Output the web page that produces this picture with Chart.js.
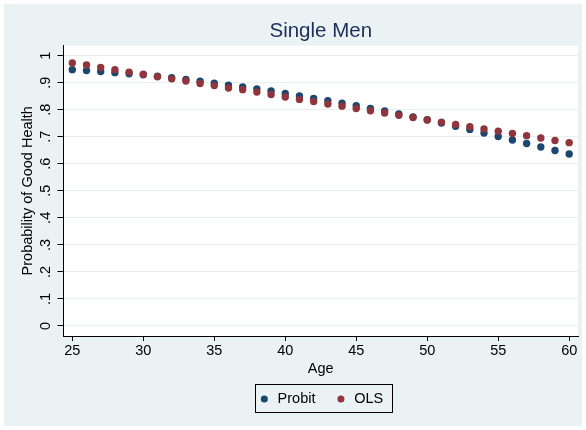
<!DOCTYPE html>
<html>
<head>
<meta charset="utf-8">
<script src="https://cdn.jsdelivr.net/npm/chart.js@4.4.0/dist/chart.umd.min.js"></script>
<style>
  html, body { margin: 0; padding: 0; background: #fff; }
  canvas { display: block; }
</style>
</head>
<body>
<canvas id="myChart" width="586" height="430"></canvas>
<script>
// data
var ages = [25,26,27,28,29,30,31,32,33,34,35,36,37,38,39,40,41,42,43,44,45,46,47,48,49,50,51,52,53,54,55,56,57,58,59,60];
var probit = [.948,.945,.941,.937,.933,.929,.924,.918,.912,.905,.898,.891,.884,.877,.869,.860,.851,.842,.833,.824,.815,.805,.795,.784,.773,.763,.751,.739,.727,.714,.701,.688,.675,.662,.649,.636];
var ols = [.973,.965,.956,.948,.939,.931,.922,.914,.906,.897,.889,.880,.874,.865,.856,.847,.838,.830,.821,.813,.804,.796,.788,.779,.771,.762,.754,.745,.737,.729,.720,.712,.704,.695,.686,.678];
var xTicks = [25,30,35,40,45,50,55,60];
var yTicks = [0,.1,.2,.3,.4,.5,.6,.7,.8,.9,1];
var yTickLabels = ['0','.1','.2','.3','.4','.5','.6','.7','.8','.9','1'];

var FONT = "'Liberation Sans', Arial, sans-serif";
Chart.defaults.font.family = FONT;
Chart.defaults.color = '#000';

function points(ys) {
	return ages.map(function(a, i) { return {x: a, y: ys[i]}; });
}

var stataPlugin = {
	id: 'stata',
	beforeDraw: function(chart) {
		var ctx = chart.ctx, ca = chart.chartArea;
		ctx.save();
		ctx.fillStyle = '#ffffff';
		ctx.fillRect(0, 0, chart.width, chart.height);
		ctx.fillStyle = '#EAF2F3';
		ctx.fillRect(4, 4, 578, 422);
		ctx.fillStyle = '#ffffff';
		ctx.fillRect(ca.left, ca.top, ca.right - ca.left, ca.bottom - ca.top);
		ctx.restore();
	},
	afterDraw: function(chart) {
		var ctx = chart.ctx;
		var y = chart.scales.y;
		// rotated y tick labels
		ctx.save();
		ctx.fillStyle = '#000';
		ctx.font = '14.5px ' + FONT;
		ctx.textAlign = 'center';
		ctx.textBaseline = 'middle';
		yTicks.forEach(function(v, i) {
			ctx.save();
			ctx.translate(45.7, y.getPixelForValue(v));
			ctx.rotate(-Math.PI / 2);
			ctx.fillText(yTickLabels[i], 0, 0);
			ctx.restore();
		});
		// legend frame
		var hb = chart.legend.legendHitBoxes;
		if (hb && hb.length) {
			var bw = chart.legend.options.labels.boxWidth;
			var cy = hb[0].top + hb[0].height / 2;
			var l = Math.round(hb[0].left + bw / 2 - 9) + 0.5;
			var last = hb[hb.length - 1];
			var r = Math.round(last.left + last.width + 8.4) + 0.5;
			var t = Math.round(cy - 15) + 0.5;
			var b = Math.round(cy + 13.3) + 0.5;
			ctx.strokeStyle = '#000';
			ctx.lineWidth = 1;
			ctx.strokeRect(l, t, r - l, b - t);
		}
		ctx.restore();
	}
};

var ctx = document.getElementById('myChart').getContext('2d');
var myChart = new Chart(ctx, {
	type: 'scatter',
	data: {
		datasets: [{
			label: 'Probit',
			data: points(probit),
			backgroundColor: '#1A476F',
			borderColor: '#1A476F',
			pointRadius: 3.7,
			pointBorderWidth: 0,
			pointStyle: 'circle',
			order: 1
		}, {
			label: 'OLS',
			data: points(ols),
			backgroundColor: '#90353B',
			borderColor: '#90353B',
			pointRadius: 3.7,
			pointBorderWidth: 0,
			pointStyle: 'circle',
			order: 0
		}]
	},
	options: {
		responsive: false,
		animation: false,
		layout: { padding: { left: 4, right: 8, top: 0, bottom: 13.75 } },
		plugins: {
			tooltip: { enabled: false },
			title: {
				display: true,
				fullSize: false,
				text: 'Single Men',
				color: '#1C2E5B',
				font: { size: 20.5, weight: 'normal' },
				padding: { top: 19.5, bottom: 1.5 }
			},
			legend: {
				position: 'bottom',
				fullSize: false,
				labels: {
					usePointStyle: true,
					pointStyle: 'circle',
					boxWidth: 12.1,
					boxHeight: 5,
					padding: 19.4,
					color: '#000',
					font: { size: 14.5 },
					sort: function(a, b) { return a.datasetIndex - b.datasetIndex; }
				}
			}
		},
		scales: {
			x: {
				type: 'linear',
				min: 24.38,
				max: 60.62,
				afterBuildTicks: function(s) { s.ticks = xTicks.map(function(v) { return {value: v}; }); },
				afterFit: function(s) { s.height = 36.35; },
				ticks: { autoSkip: false, padding: 1.5, color: '#000', font: { size: 14.5 }, maxRotation: 0,
					callback: function(v) { return String(v); } },
				grid: { drawOnChartArea: false, tickLength: 5, tickColor: '#000' },
				border: { color: '#000', width: 1 },
				title: { display: true, text: 'Age', color: '#000', font: { size: 14.5 }, padding: { top: 0, bottom: -4.85 } }
			},
			y: {
				type: 'linear',
				min: -0.037,
				max: 1.037,
				afterBuildTicks: function(s) { s.ticks = yTicks.map(function(v) { return {value: v}; }); },
				afterFit: function(s) { s.width = 59.5; },
				ticks: { display: false },
				grid: { color: '#E6EEF0', tickLength: 6, tickColor: '#000' },
				border: { color: '#000', width: 1 },
				title: { display: true, text: 'Probability of Good Health', color: '#000', font: { size: 14.5 }, padding: { top: 15.6, bottom: 0 } }
			}
		}
	},
	plugins: [stataPlugin]
});
</script>
</body>
</html>
